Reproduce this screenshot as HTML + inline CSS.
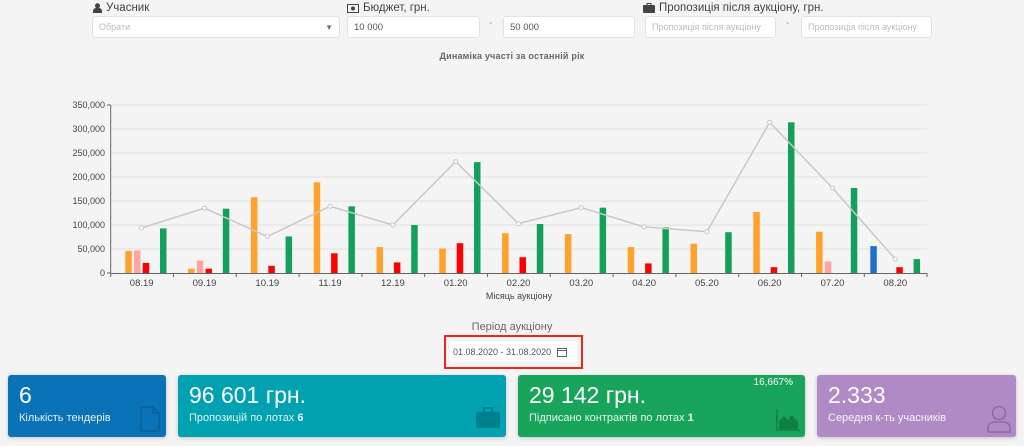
<!DOCTYPE html>
<html><head><meta charset="utf-8"><style>
*{box-sizing:border-box;margin:0;padding:0}
body{width:1024px;height:446px;background:#f4f4f4;font-family:"Liberation Sans","Noto Sans CJK SC",sans-serif;position:relative;overflow:hidden;color:#555}
.a{position:absolute;white-space:nowrap}
.lbl{font-size:11.5px;color:#444;display:flex;align-items:center;gap:4px}
.inp{background:#fff;border:1px solid #e2e2e2;border-radius:3px;font-size:9.5px;color:#555;padding:0 6px;display:flex;align-items:center;white-space:nowrap;overflow:hidden}
.ph{color:#bbb;font-size:9px}
.card{position:absolute;top:375px;height:62px;border-radius:3px;color:#fff;box-shadow:0 1px 4px rgba(0,0,0,.2)}
.card .big{position:absolute;left:11px;top:7px;font-size:23px;white-space:nowrap}
.card .sub{position:absolute;left:11px;top:37px;font-size:11px;opacity:.9;white-space:nowrap}
</style></head><body>
<div class="a lbl" style="left:93px;top:2px"><svg width="9" height="10"><circle cx="4.5" cy="2.8" r="2.5" fill="#444"/><path d="M0 10v-2a3 3 0 0 1 3-3h3a3 3 0 0 1 3 3v2z" fill="#444"/></svg>Учасник</div>
<div class="a inp" style="left:92px;top:16px;width:248px;height:22px;justify-content:space-between"><span class="ph">Обрати</span><span style="font-size:8px;color:#777">▼</span></div>
<div class="a lbl" style="left:347px;top:2px"><svg width="12" height="9"><rect x="0.5" y="0.5" width="11" height="8" fill="none" stroke="#444"/><circle cx="6" cy="4.5" r="2" fill="#444"/></svg>Бюджет, грн.</div>
<div class="a inp" style="left:347px;top:16px;width:133px;height:22px">10 000</div>
<div class="a" style="left:489px;top:18px;font-size:10px;color:#999">-</div>
<div class="a inp" style="left:503px;top:16px;width:132px;height:22px">50 000</div>
<div class="a lbl" style="left:643px;top:2px"><svg width="12" height="10"><rect x="0" y="2" width="12" height="8" rx="1" fill="#444"/><rect x="4" y="0.5" width="4" height="2" fill="none" stroke="#444"/></svg>Пропозиція після аукціону, грн.</div>
<div class="a inp" style="left:645px;top:16px;width:131px;height:22px"><span class="ph">Пропозиція після аукціону</span></div>
<div class="a" style="left:786px;top:18px;font-size:10px;color:#999">-</div>
<div class="a inp" style="left:801px;top:16px;width:131px;height:22px"><span class="ph">Пропозиція після аукціону</span></div>
<div class="a" style="left:0;width:1024px;top:51px;text-align:center;font-size:9px;font-weight:bold;color:#666;letter-spacing:0.2px">Динаміка участі за останній рік</div>

<svg class="a" style="left:0;top:0" width="1024" height="310" font-family="Liberation Sans,sans-serif">
<g stroke="#e0e0e0" stroke-width="1">
<line x1="111" x2="927" y1="105" y2="105"/><line x1="111" x2="927" y1="129" y2="129"/><line x1="111" x2="927" y1="153" y2="153"/><line x1="111" x2="927" y1="177" y2="177"/><line x1="111" x2="927" y1="201" y2="201"/><line x1="111" x2="927" y1="225" y2="225"/><line x1="111" x2="927" y1="249" y2="249"/>
</g>
<g font-size="9" fill="#444" text-anchor="end">
<text x="105" y="108">350,000</text><text x="105" y="132">300,000</text><text x="105" y="156">250,000</text><text x="105" y="180">200,000</text><text x="105" y="204">150,000</text><text x="105" y="228">100,000</text><text x="105" y="252">50,000</text><text x="105" y="276">0</text>
</g>
<g fill="#ffa22b">
<rect x="125.3" y="250.9" width="6.5" height="22.1"/><rect x="188.1" y="268.7" width="6.5" height="4.3"/><rect x="250.9" y="197.2" width="6.5" height="75.8"/><rect x="313.7" y="182.3" width="6.5" height="90.7"/><rect x="376.5" y="247.1" width="6.5" height="25.9"/><rect x="439.3" y="248.5" width="6.5" height="24.5"/><rect x="502.1" y="233.2" width="6.5" height="39.8"/><rect x="564.9" y="234.1" width="6.5" height="38.9"/><rect x="627.7" y="247.1" width="6.5" height="25.9"/><rect x="690.5" y="243.7" width="6.5" height="29.3"/><rect x="753.3" y="212" width="6.5" height="61"/><rect x="816.1" y="231.7" width="6.5" height="41.3"/>
</g>
<g fill="#ffa4a4">
<rect x="134" y="250.4" width="6.5" height="22.6"/><rect x="196.8" y="260.5" width="6.5" height="12.5"/><rect x="824.8" y="261.5" width="6.5" height="11.5"/>
</g>
<g fill="#f00">
<rect x="142.7" y="262.9" width="6.5" height="10.1"/><rect x="205.5" y="268.7" width="6.5" height="4.3"/><rect x="268.3" y="265.8" width="6.5" height="7.2"/><rect x="331.1" y="253.3" width="6.5" height="19.7"/><rect x="393.9" y="262.4" width="6.5" height="10.6"/><rect x="456.7" y="243.2" width="6.5" height="29.8"/><rect x="519.5" y="257.2" width="6.5" height="15.8"/><rect x="645.1" y="263.4" width="6.5" height="9.6"/><rect x="770.7" y="267.2" width="6.5" height="5.8"/><rect x="896.3" y="267.2" width="6.5" height="5.8"/>
</g>
<g fill="#13a05a">
<rect x="160" y="228.4" width="6.5" height="44.6"/><rect x="222.8" y="208.7" width="6.5" height="64.3"/><rect x="285.6" y="236.5" width="6.5" height="36.5"/><rect x="348.4" y="206.3" width="6.5" height="66.7"/><rect x="411.2" y="225" width="6.5" height="48"/><rect x="474" y="162.1" width="6.5" height="110.9"/><rect x="536.8" y="224" width="6.5" height="49"/><rect x="599.6" y="207.7" width="6.5" height="65.3"/><rect x="662.4" y="227.4" width="6.5" height="45.6"/><rect x="725.2" y="232.2" width="6.5" height="40.8"/><rect x="788" y="122.3" width="6.5" height="150.7"/><rect x="850.8" y="188" width="6.5" height="85"/><rect x="913.6" y="259.1" width="6.5" height="13.9"/>
</g>
<rect x="870.3" y="246.1" width="6.5" height="26.9" fill="#1f6fcc"/>
<polyline fill="none" stroke="#c8c8c8" stroke-width="1.5" points="141.7,227.9 204.5,208.2 267.3,236.5 330.1,206.3 392.9,225 455.7,161.6 518.5,223.6 581.3,207.7 644.1,226.9 706.9,231.7 769.7,122.3 832.5,188 895.3,259.1"/>
<g fill="#fff" stroke="#c8c8c8">
<circle cx="141.7" cy="227.9" r="2"/><circle cx="204.5" cy="208.2" r="2"/><circle cx="267.3" cy="236.5" r="2"/><circle cx="330.1" cy="206.3" r="2"/><circle cx="392.9" cy="225" r="2"/><circle cx="455.7" cy="161.6" r="2"/><circle cx="518.5" cy="223.6" r="2"/><circle cx="581.3" cy="207.7" r="2"/><circle cx="644.1" cy="226.9" r="2"/><circle cx="706.9" cy="231.7" r="2"/><circle cx="769.7" cy="122.3" r="2"/><circle cx="832.5" cy="188" r="2"/><circle cx="895.3" cy="259.1" r="2"/>
</g>
<g stroke="#666" stroke-width="1">
<line x1="110.7" x2="110.7" y1="105" y2="273"/><line x1="107" x2="110.7" y1="105" y2="105"/><line x1="107" x2="110.7" y1="273" y2="273"/>
<line x1="110.7" x2="927" y1="273.5" y2="273.5"/>
<path d="M110.7 273v4M173.5 273v4M236.3 273v4M299.1 273v4M361.9 273v4M424.7 273v4M487.5 273v4M550.3 273v4M613.1 273v4M675.9 273v4M738.7 273v4M801.5 273v4M864.3 273v4M927 273v4"/>
</g>
<g font-size="9.5" fill="#444" text-anchor="middle">
<text x="141.7" y="286">08.19</text><text x="204.5" y="286">09.19</text><text x="267.3" y="286">10.19</text><text x="330.1" y="286">11.19</text><text x="392.9" y="286">12.19</text><text x="455.7" y="286">01.20</text><text x="518.5" y="286">02.20</text><text x="581.3" y="286">03.20</text><text x="644.1" y="286">04.20</text><text x="706.9" y="286">05.20</text><text x="769.7" y="286">06.20</text><text x="832.5" y="286">07.20</text><text x="895.3" y="286">08.20</text>
<text x="519" y="299" font-size="9">Місяць аукціону</text>
</g>
</svg>

<div class="a" style="left:0;width:1024px;top:321px;text-align:center;font-size:11px;color:#666">Період аукціону</div>
<div class="a" style="left:444px;top:335px;width:139px;height:34px;border:2px solid #e8281c"></div>
<div class="a inp" style="left:448px;top:340px;width:130px;height:23px;font-size:9px;color:#555;border-color:#eee;padding:0 4px">01.08.2020 - 31.08.2020<svg style="margin-left:6px" width="10" height="10"><rect x="0.5" y="1.5" width="9" height="8" fill="none" stroke="#666"/><line x1="0.5" x2="9.5" y1="3.5" y2="3.5" stroke="#666"/></svg></div>

<div class="card" style="left:8px;width:158px;background:#0a73b7"><div class="big">6</div><div class="sub">Кількість тендерів</div>
<svg class="a" style="left:132px;top:31px" width="20" height="26"><path d="M1 1h12l6 6v18H1z M13 1v6h6" fill="none" stroke="#0a5f97" stroke-width="1.5"/></svg></div>
<div class="card" style="left:178px;width:328px;background:#00a1b1"><div class="big">96 601 грн.</div><div class="sub">Пропозицій по лотах <b>6</b></div>
<svg class="a" style="left:298px;top:32px" width="24" height="22"><rect x="0" y="5" width="24" height="16" rx="2" fill="#00808e"/><rect x="8" y="1" width="8" height="5" fill="none" stroke="#00808e" stroke-width="2"/></svg></div>
<div class="card" style="left:518px;width:287px;background:#18a55b"><div class="big">29 142 грн.</div><div class="sub">Підписано контрактів по лотах <b>1</b></div>
<div class="a" style="right:12px;top:2px;font-size:10px">16,667%</div>
<svg class="a" style="left:258px;top:34px" width="24" height="22"><path d="M1 0v21h23" stroke="#0f7f44" fill="none" stroke-width="1.5"/><path d="M3 20 L3 12 L8 7 L12 11 L16 6 L22 13 L22 20Z" fill="#0f7f44"/></svg></div>
<div class="card" style="left:817px;width:199px;background:#b08ac4"><div class="big">2.333</div><div class="sub">Середня к-ть учасників</div>
<svg class="a" style="left:170px;top:30px" width="24" height="28"><circle cx="12" cy="8" r="6.5" fill="none" stroke="#8c6aa0" stroke-width="1.5"/><path d="M1 27v-4a6 6 0 0 1 6-6h10a6 6 0 0 1 6 6v4z" fill="none" stroke="#8c6aa0" stroke-width="1.5"/></svg></div>
</body></html>
